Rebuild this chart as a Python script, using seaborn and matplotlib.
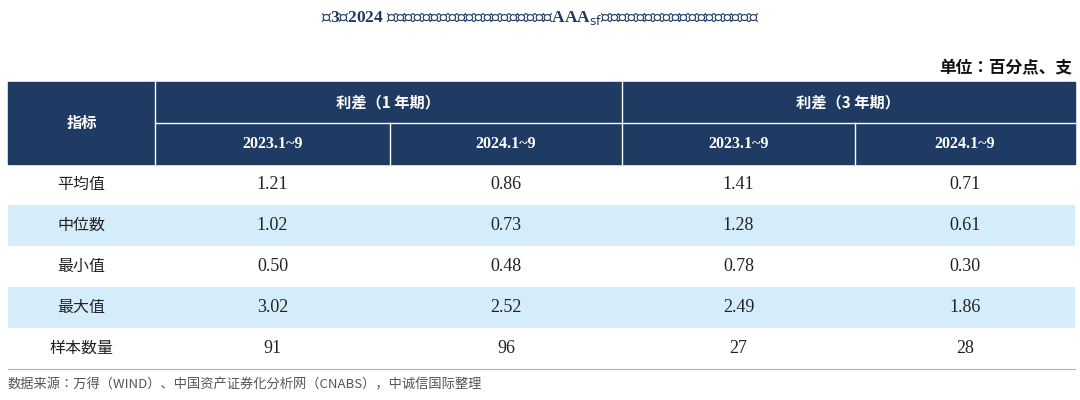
import numpy as np
import pandas as pd
import matplotlib.pyplot as plt
import seaborn as sns
from matplotlib.colors import ListedColormap
from matplotlib.patches import Rectangle

# === Data ===
title = "表3：2024 年前三季度企业融资租赁类资产支持证券（AAA$_{\\mathrm{sf}}$级）与同期限国债到期收益率利差比较表"
unit = "单位：百分点、支"
source = "数据来源：万得（WIND）、中国资产证券化分析网（CNABS），中诚信国际整理"
indicators = ["平均值", "中位数", "最小值", "最大值", "样本数量"]
groups = ["利差（1 年期）", "利差（3 年期）"]
periods = ["2023.1~9", "2024.1~9", "2023.1~9", "2024.1~9"]
spread_1y_2023 = ["1.21", "1.02", "0.50", "3.02", "91"]
spread_1y_2024 = ["0.86", "0.73", "0.48", "2.52", "96"]
spread_3y_2023 = ["1.41", "1.28", "0.78", "2.49", "27"]
spread_3y_2024 = ["0.71", "0.61", "0.30", "1.86", "28"]
columns = [spread_1y_2023, spread_1y_2024, spread_3y_2023, spread_3y_2024]

cjk = ["Noto Sans CJK SC", "Noto Sans CJK JP", "DejaVu Sans"]
serif = "Liberation Serif"
navy = "#1f3a63"
light = "#d5ecfb"

fig = plt.figure(figsize=(10.8, 4), dpi=100)

xs = [8, 155, 390, 622, 855, 1075]
top, mid, hdr_bot, bot = 82, 123, 164, 369
row_h = (bot - hdr_bot) / len(indicators)

# body row shading via seaborn heatmap (drawn first, underneath)
hax = fig.add_axes([xs[0] / 1080, (400 - bot) / 400, (xs[-1] - xs[0]) / 1080, (bot - hdr_bot) / 400])
shade = pd.DataFrame({"row": [i % 2 for i in range(len(indicators))]}, index=indicators)
sns.heatmap(shade, ax=hax, cmap=ListedColormap(["white", light]), cbar=False,
            xticklabels=False, yticklabels=False, linewidths=0)
hax.axis("off")

ax = fig.add_axes([0, 0, 1, 1])
ax.patch.set_alpha(0)
ax.set_xlim(0, 1080)
ax.set_ylim(400, 0)
ax.axis("off")

# header
ax.add_patch(Rectangle((xs[0], top), xs[-1] - xs[0], hdr_bot - top, color=navy, zorder=1))
for x in xs[1:-1]:
    y0 = top if x in (xs[1], xs[3]) else mid
    ax.plot([x, x], [y0, hdr_bot], color="white", lw=1, zorder=2)
ax.plot([xs[1], xs[-1]], [mid, mid], color="white", lw=1, zorder=2)
ax.plot([xs[0], xs[-1]], [bot, bot], color="#9db6cf", lw=0.8, zorder=2)

ax.text((xs[0] + xs[1]) / 2, (top + hdr_bot) / 2, "指标", color="white", ha="center", va="center",
        fontfamily=cjk, fontweight="bold", fontsize=11, zorder=3)
for g, name in enumerate(groups):
    ax.text((xs[1 + 2 * g] + xs[3 + 2 * g]) / 2, (top + mid) / 2, name, color="white", ha="center",
            va="center", fontfamily=cjk, fontweight="bold", fontsize=11, zorder=3)
for j, p in enumerate(periods):
    ax.text((xs[1 + j] + xs[2 + j]) / 2, (mid + hdr_bot) / 2, p, color="white", ha="center",
            va="center", fontfamily=serif, fontweight="bold", fontsize=11.5, zorder=3)

# body text
for i, name in enumerate(indicators):
    yc = hdr_bot + (i + 0.5) * row_h
    ax.text((xs[0] + xs[1]) / 2, yc, name, ha="center", va="center", fontfamily=cjk,
            fontsize=11.5, color="#222222", zorder=3)
    for j, col in enumerate(columns):
        ax.text((xs[1 + j] + xs[2 + j]) / 2, yc, col[i], ha="center", va="center",
                fontfamily=serif, fontsize=13, color="#222222", zorder=3)

ax.text(540, 18, title, ha="center", va="center", fontfamily=[serif] + cjk, fontweight="bold",
        fontsize=12.5, color=navy)
ax.text(1072, 68, unit, ha="right", va="center", fontfamily=cjk, fontweight="bold",
        fontsize=12, color="#111111")
ax.text(8, 385, source, ha="left", va="center", fontfamily=cjk, fontstyle="italic",
        fontsize=9.5, color="#555555")

fig.savefig("out.png", dpi=100)
